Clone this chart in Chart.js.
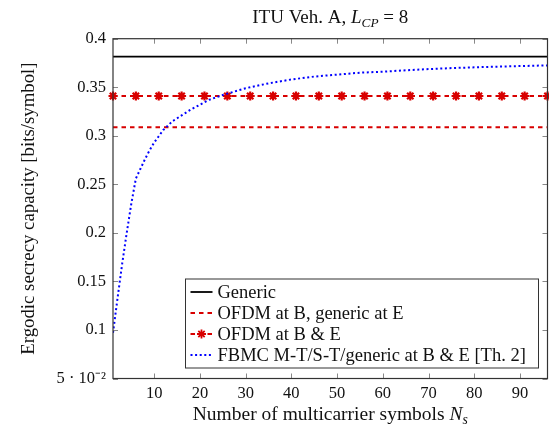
<!DOCTYPE html>
<html lang="en">
<head>
    <meta charset="UTF-8">
    <title>Ergodic secrecy capacity</title>
    <script src="https://cdn.jsdelivr.net/npm/chart.js"></script>
    <style>
        html, body {
            margin: 0;
            padding: 0;
            background: #fff;
        }
        .chart-box {
            position: relative;
            width: 549px;
            height: 430px;
        }
    </style>
</head>
<body>
    <div class="chart-box">
        <canvas id="capacityChart"></canvas>
    </div>

    <script>
        // Data
        const xTicks = [10, 20, 30, 40, 50, 60, 70, 80, 90];
        const yTicks = [0.05, 0.1, 0.15, 0.2, 0.25, 0.3, 0.35, 0.4];

        const lineNs = [1, 96];
        const genericValues = [0.3815, 0.3815];
        const ofdmBValues = [0.3088, 0.3088];

        const markerNs = [1, 6, 11, 16, 21, 26, 31, 36, 41, 46, 51, 56, 61, 66, 71, 76, 81, 86, 91, 96];
        const ofdmBEValues = [0.341, 0.341, 0.341, 0.341, 0.341, 0.341, 0.341, 0.341, 0.341, 0.341,
                              0.341, 0.341, 0.341, 0.341, 0.341, 0.341, 0.341, 0.341, 0.341, 0.341];

        const fbmcNs = [1, 2, 3, 4, 5, 6, 7, 8, 9, 10, 12, 14, 16, 18, 20, 22, 25, 30, 35, 40,
                        45, 50, 55, 60, 65, 70, 75, 80, 85, 90, 96];
        const fbmcValues = [0.097, 0.133, 0.168, 0.200, 0.230, 0.256, 0.266, 0.276, 0.285, 0.293,
                            0.306, 0.315, 0.321, 0.327, 0.332, 0.337, 0.342, 0.349, 0.354, 0.358,
                            0.361, 0.363, 0.365, 0.366, 0.3675, 0.3687, 0.3697, 0.3705, 0.3712, 0.3718, 0.3725];

        const RED = '#d80000';
        const BLUE = '#0000ff';
        const SERIF = '"Liberation Serif", "Times New Roman", serif';

        function toPoints(xs, ys) {
            return xs.map((x, i) => ({ x: x, y: ys[i] }));
        }

        // draw a run of text pieces (normal / italic / subscript / superscript)
        function drawRich(ctx, parts, cx, baseline, size) {
            let total = 0;
            const laid = parts.map(p => {
                const s = p.sub || p.sup ? size * 0.7 : size;
                const font = (p.italic ? 'italic ' : '') + s + 'px ' + SERIF;
                ctx.font = font;
                const w = ctx.measureText(p.text).width;
                total += w;
                return { p, font, w };
            });
            let x = cx - total / 2;
            ctx.textAlign = 'left';
            ctx.textBaseline = 'alphabetic';
            laid.forEach(l => {
                ctx.font = l.font;
                let y = baseline;
                if (l.p.sub) y += size * 0.22;
                if (l.p.sup) y -= size * 0.35;
                ctx.fillText(l.p.text, x, y);
                x += l.w;
            });
        }

        // pgfplots style: frame, inward ticks on all sides, titles, legend inside
        const pgfStyle = {
            id: 'pgfStyle',
            afterDraw(chart) {
                const ctx = chart.ctx;
                const area = chart.chartArea;
                const xs = chart.scales.x;
                const ys = chart.scales.y;
                ctx.save();

                // ticks
                ctx.strokeStyle = '#888';
                ctx.lineWidth = 1;
                ctx.beginPath();
                xTicks.forEach(v => {
                    const px = Math.round(xs.getPixelForValue(v)) + 0.5;
                    ctx.moveTo(px, area.bottom);
                    ctx.lineTo(px, area.bottom - 5);
                    ctx.moveTo(px, area.top);
                    ctx.lineTo(px, area.top + 5);
                });
                yTicks.forEach(v => {
                    const py = Math.round(ys.getPixelForValue(v)) + 0.5;
                    ctx.moveTo(area.left, py);
                    ctx.lineTo(area.left + 5, py);
                    ctx.moveTo(area.right, py);
                    ctx.lineTo(area.right - 5, py);
                });
                ctx.stroke();

                // frame
                ctx.strokeStyle = '#333';
                ctx.lineWidth = 1.2;
                ctx.strokeRect(area.left, area.top, area.right - area.left, area.bottom - area.top);

                // title and axis labels
                ctx.fillStyle = '#111';
                const midX = (area.left + area.right) / 2;
                drawRich(ctx, [
                    { text: 'ITU Veh. A, ' },
                    { text: 'L', italic: true },
                    { text: 'CP', italic: true, sub: true },
                    { text: ' = 8' }
                ], midX, 23, 19);
                drawRich(ctx, [
                    { text: 'Number of multicarrier symbols ' },
                    { text: 'N', italic: true },
                    { text: 's', italic: true, sub: true }
                ], midX, 420, 19.5);

                ctx.save();
                ctx.translate(34, (area.top + area.bottom) / 2);
                ctx.rotate(-Math.PI / 2);
                drawRich(ctx, [{ text: 'Ergodic secrecy capacity [bits/symbol]' }], 0, 0, 18.8);
                ctx.restore();

                // legend box
                const lx = 185.5, ly = 279, lw = 353, lh = 89;
                ctx.fillStyle = '#fff';
                ctx.fillRect(lx, ly, lw, lh);
                ctx.strokeStyle = '#333';
                ctx.lineWidth = 1;
                ctx.strokeRect(lx, ly, lw, lh);

                chart.data.datasets.forEach((ds, i) => {
                    const rowY = ly + 13 + i * 21;
                    ctx.save();
                    ctx.strokeStyle = ds.borderColor;
                    ctx.lineWidth = ds.borderWidth;
                    ctx.setLineDash(ds.borderDash || []);
                    ctx.beginPath();
                    ctx.moveTo(lx + 5, rowY);
                    ctx.lineTo(lx + 27, rowY);
                    ctx.stroke();
                    if (ds.pointRadius > 0) {
                        ctx.setLineDash([]);
                        Chart.helpers.drawPoint(ctx, {
                            pointStyle: ds.pointStyle,
                            radius: ds.pointRadius,
                            borderWidth: ds.pointBorderWidth,
                            rotation: 0
                        }, lx + 16, rowY);
                    }
                    ctx.restore();
                    ctx.fillStyle = '#111';
                    ctx.font = '18.5px ' + SERIF;
                    ctx.textAlign = 'left';
                    ctx.textBaseline = 'middle';
                    ctx.fillText(ds.label, lx + 32, rowY + 1);
                });

                ctx.restore();
            }
        };

        document.addEventListener('DOMContentLoaded', () => {
            const ctx = document.getElementById('capacityChart').getContext('2d');
            new Chart(ctx, {
                type: 'line',
                data: {
                    datasets: [{
                        label: 'Generic',
                        data: toPoints(lineNs, genericValues),
                        borderColor: '#000',
                        borderWidth: 1.8,
                        pointRadius: 0,
                        order: 3
                    }, {
                        label: 'OFDM at B, generic at E',
                        data: toPoints(lineNs, ofdmBValues),
                        borderColor: RED,
                        borderWidth: 1.8,
                        borderDash: [4.5, 4],
                        pointRadius: 0,
                        order: 2
                    }, {
                        label: 'OFDM at B & E',
                        data: toPoints(markerNs, ofdmBEValues),
                        borderColor: RED,
                        backgroundColor: RED,
                        borderWidth: 1.8,
                        borderDash: [4.5, 4],
                        pointStyle: 'star',
                        pointRadius: 4.5,
                        pointBorderWidth: 2.2,
                        pointBorderColor: RED,
                        clip: false,
                        order: 1
                    }, {
                        label: 'FBMC M-T/S-T/generic at B & E [Th. 2]',
                        data: toPoints(fbmcNs, fbmcValues),
                        borderColor: BLUE,
                        borderWidth: 2,
                        borderDash: [2, 2.6],
                        borderCapStyle: 'butt',
                        pointRadius: 0,
                        tension: 0,
                        order: 0
                    }]
                },
                options: {
                    responsive: true,
                    maintainAspectRatio: false,
                    animation: false,
                    layout: {
                        autoPadding: false,
                        padding: { top: 38.7, right: 1.5, left: 0, bottom: 0 }
                    },
                    plugins: {
                        legend: { display: false },
                        tooltip: { enabled: false }
                    },
                    scales: {
                        x: {
                            type: 'linear',
                            min: 1,
                            max: 96,
                            afterBuildTicks: (scale) => {
                                scale.ticks = xTicks.map(v => ({ value: v }));
                            },
                            afterFit: (scale) => {
                                scale.height = 51.5;
                                scale.paddingLeft = 0;
                                scale.paddingRight = 0;
                            },
                            grid: { display: false, drawTicks: false },
                            border: { display: false },
                            ticks: {
                                padding: 5,
                                color: '#111',
                                font: { family: SERIF, size: 16.5 }
                            }
                        },
                        y: {
                            type: 'linear',
                            min: 0.05,
                            max: 0.4,
                            afterBuildTicks: (scale) => {
                                scale.ticks = yTicks.map(v => ({ value: v }));
                            },
                            afterFit: (scale) => {
                                scale.width = 113;
                                scale.paddingTop = 0;
                                scale.paddingBottom = 0;
                            },
                            grid: { display: false, drawTicks: false },
                            border: { display: false },
                            ticks: {
                                padding: 7,
                                color: '#111',
                                font: { family: SERIF, size: 16.5 },
                                callback: (v) => Math.abs(v - 0.05) < 1e-9 ? '5 \u00b7 10\u207b\u00b2' : String(+v.toFixed(2))
                            }
                        }
                    }
                },
                plugins: [pgfStyle]
            });
        });
    </script>
</body>
</html>
